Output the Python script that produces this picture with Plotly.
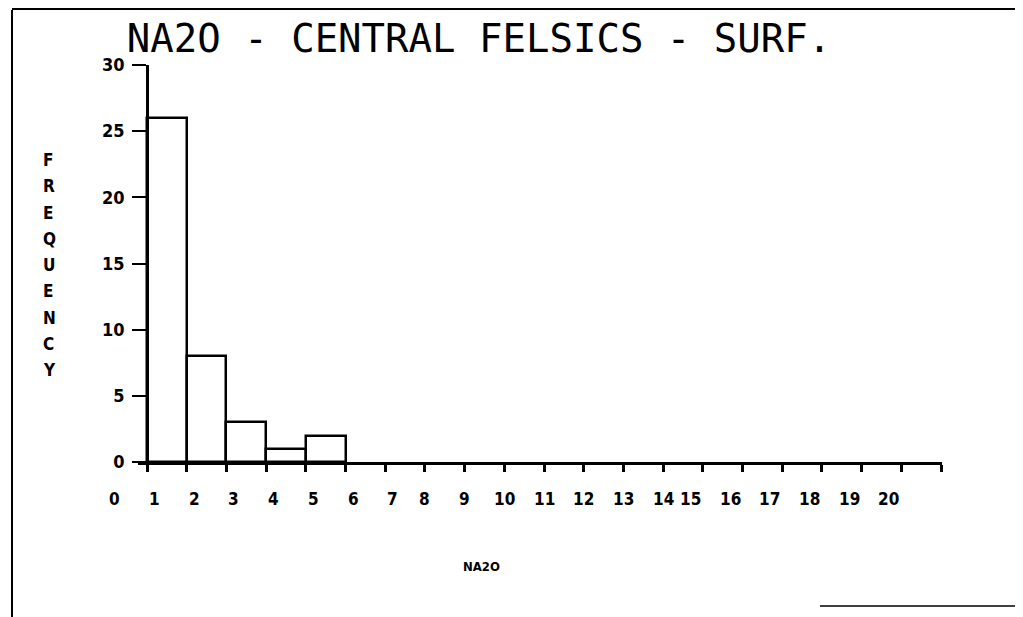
import plotly.graph_objects as go

# ---- data ----
bin_left = [1, 2, 3, 4, 5]
bin_right = [2, 3, 4, 5, 6]
frequency = [26, 8, 3, 1, 2]
x_tick_values = list(range(0, 21))
x_tick_labels = [str(v) for v in range(0, 21)]
x_ticks = list(range(1, 22))
y_ticks = [0, 5, 10, 15, 20, 25, 30]
title_text = "NA2O - CENTRAL FELSICS - SURF."
x_title = "NA2O"
y_title = "FREQUENCY"

# page body has an 8px margin; target pixel positions are shifted accordingly
OFF = 8
W, H = 1023, 617
L = 138 - OFF
T = 65 - OFF
PR = 942 - OFF
PB = 462 - OFF
R = W - PR
B = H - PB
pw = PR - L
ph = PB - T
FONT = "DejaVu Sans Mono"
TICKFONT = "DejaVu Sans Condensed"
UNIT = 39.7

centers = [(a + b) / 2 for a, b in zip(bin_left, bin_right)]
widths = [b - a for a, b in zip(bin_left, bin_right)]

fig = go.Figure()
fig.add_trace(go.Bar(
    x=centers, y=frequency, width=widths,
    marker=dict(color="white", line=dict(color="black", width=2.5)),
    hoverinfo="x+y", showlegend=False,
))

x0 = 1 - 9 / UNIT
x1 = x0 + pw / UNIT


def px2x(px):
    return (px - OFF - L) / pw


def py2y(py):
    return (PB - (py - OFF)) / ph


annotations = []
for v, t in zip(x_tick_values, x_tick_labels):
    annotations.append(dict(x=(v - x0) / (x1 - x0), y=0, xref="paper", yref="paper", text="<b>" + t + "</b>",
                            showarrow=False, yanchor="middle", yshift=-37,
                            font=dict(family=TICKFONT, size=17, color="black")))
# y title: stacked letters
n = len(y_title)
top_px, bot_px = 160, 370
for i, ch in enumerate(y_title):
    py = top_px + (bot_px - top_px) * i / (n - 1)
    annotations.append(dict(x=px2x(41), y=py2y(py), xref="paper", yref="paper",
                            text="<b>" + ch + "</b>", showarrow=False, yanchor="middle",
                            font=dict(family=TICKFONT, size=17, color="black")))
annotations.append(dict(x=px2x(481), y=py2y(576), xref="paper", yref="paper",
                        text="<b>" + x_title + "</b>", showarrow=False,
                        font=dict(family="DejaVu Sans Condensed", size=13, color="black")))

shapes = [
    dict(type="line", xref="paper", yref="paper", x0=px2x(12), x1=px2x(12), y0=py2y(10), y1=py2y(625),
         line=dict(color="black", width=2)),
    dict(type="line", xref="paper", yref="paper", x0=px2x(12), x1=px2x(1030), y0=py2y(9), y1=py2y(9),
         line=dict(color="black", width=2)),
    dict(type="line", xref="paper", yref="paper", x0=px2x(820), x1=px2x(1030), y0=py2y(606), y1=py2y(606),
         line=dict(color="black", width=1.5)),
]

fig.update_layout(
    width=W, height=H,
    margin=dict(l=L, r=R, t=T, b=B, autoexpand=False),
    paper_bgcolor="white", plot_bgcolor="white",
    title=dict(text=title_text, x=(479 - OFF) / W, xanchor="center", y=1 - (38 - OFF) / H, yanchor="middle",
               font=dict(family=FONT, size=39, color="black")),
    bargap=0,
    xaxis=dict(range=[x0, x1], showgrid=False, zeroline=False, showline=True, linecolor="black",
               linewidth=2.5, tickmode="array", tickvals=x_ticks, showticklabels=False,
               ticks="outside", ticklen=7, tickwidth=3, tickcolor="black", fixedrange=True),
    yaxis=dict(range=[0, 30], showgrid=False, zeroline=False, showline=True, linecolor="black",
               linewidth=2.5, anchor="free", position=9 / pw, tickmode="array", tickvals=y_ticks,
               ticks="outside", ticklen=14, tickwidth=2, tickcolor="black", ticklabelstandoff=4,
               tickfont=dict(family=TICKFONT, size=18, color="black", weight="bold"), fixedrange=True),
    annotations=annotations,
    shapes=shapes,
)

fig.write_html("out.html")
